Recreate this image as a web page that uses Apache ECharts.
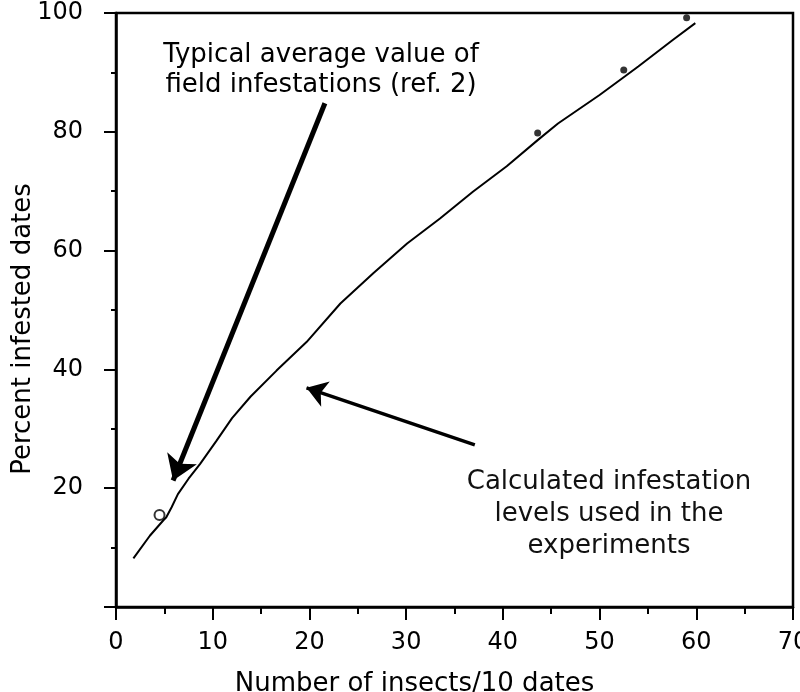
<!DOCTYPE html>
<html>
<head>
<meta charset="utf-8">
<script src="https://cdn.jsdelivr.net/npm/echarts@6/dist/echarts.min.js"></script>
<style>
  html, body { margin: 0; padding: 0; background: #fff; }
  #infoEchart { width: 800px; height: 692px; }
</style>
</head>
<body>
<div id="infoEchart"></div>
<script>
// curve: number of insects / 10 dates vs percent infested
var curveX = [1.8, 3.5, 4.9, 5.2, 5.75, 6.4, 7.5, 8.7, 10.4, 12.0, 13.9, 16.6, 19.7, 23.2, 26.6, 30.1, 33.5, 36.9, 40.4, 43.6, 45.7, 50.0, 52.6, 54.0, 57.6, 59.9];
var curveY = [8.2, 12.0, 14.6, 15.1, 16.8, 19.0, 21.6, 24.1, 28.0, 31.8, 35.4, 39.8, 44.6, 51.1, 56.2, 61.2, 65.4, 69.9, 74.2, 78.6, 81.4, 86.2, 89.3, 91.0, 95.5, 98.3];

// measured points
var openX = [4.5];
var openY = [15.5];
var dotX = [43.6, 52.5, 59.0];
var dotY = [79.8, 90.4, 99.2];

// annotation arrows (from, to) in data units
var arrowField = [[21.6, 84.8], [5.9, 21.3]];
var arrowCalc = [[37.1, 27.3], [19.7, 36.9]];

var xTicks = [0, 10, 20, 30, 40, 50, 60, 70];
var yTicks = [20, 40, 60, 80, 100];

var myChart;
var fontName = 'DejaVu Sans';

function zip(xs, ys) {
    var out = [];
    for (var i = 0; i < xs.length; i++) {
        out.push([xs[i], ys[i]]);
    }
    return out;
}

function buildChart() {
    myChart = echarts.init(document.getElementById('infoEchart'), null, {renderer: 'canvas'});
    var option = {
        animation: false,
        backgroundColor: '#fff',
        grid: {
            left: 116, right: 7, top: 13, bottom: 85,
            outerBoundsMode: 'none',
            containLabel: false,
            show: true, borderColor: '#000', borderWidth: 2.5
        },
        xAxis: {
            type: 'value',
            min: 0, max: 70, interval: 10,
            name: 'Number of insects/10 dates',
            nameLocation: 'middle',
            nameGap: 64,
            nameMoveOverlap: false,
            nameTextStyle: {fontFamily: fontName, fontSize: 26, color: '#000', padding: [0, 80, 0, 0]},
            axisLine: {lineStyle: {color: '#000', width: 2.5}},
            axisTick: {show: true, length: 13, lineStyle: {color: '#000', width: 2}},
            minorTick: {show: true, splitNumber: 2, length: 7, lineStyle: {color: '#000', width: 2}},
            splitLine: {show: false},
            axisLabel: {
                fontFamily: fontName, fontSize: 24, color: '#000', margin: 24,
                formatter: function (v) { return xTicks.indexOf(v) >= 0 ? String(v) : ''; }
            }
        },
        yAxis: {
            type: 'value',
            min: 0, max: 100, interval: 20,
            name: 'Percent infested dates',
            nameLocation: 'middle',
            nameGap: 80,
            nameRotate: 90,
            nameMoveOverlap: false,
            nameTextStyle: {fontFamily: fontName, fontSize: 26, color: '#000', padding: [0, 38, 0, 0]},
            axisLine: {lineStyle: {color: '#000', width: 2.5}},
            axisTick: {show: true, length: 12, lineStyle: {color: '#000', width: 2}},
            minorTick: {show: true, splitNumber: 2, length: 5, lineStyle: {color: '#000', width: 2}},
            splitLine: {show: false},
            axisLabel: {
                fontFamily: fontName, fontSize: 24, color: '#000', margin: 33,
                formatter: function (v) { return yTicks.indexOf(v) >= 0 ? String(v) : ''; }
            }
        },
        graphic: [
            {
                type: 'text', x: 321, y: 40, z: 100,
                style: {
                    text: 'Typical average value of\nfield infestations (ref. 2)',
                    font: '26px "DejaVu Sans"', fill: '#000',
                    textAlign: 'center', textVerticalAlign: 'top', lineHeight: 30
                }
            },
            {
                type: 'text', x: 609, y: 466, z: 100,
                style: {
                    text: 'Calculated infestation\nlevels used in the\nexperiments',
                    font: '26px "DejaVu Sans"', fill: '#111',
                    textAlign: 'center', textVerticalAlign: 'top', lineHeight: 32
                }
            }
        ],
        series: [
            {
                name: 'curve',
                type: 'line',
                data: zip(curveX, curveY),
                showSymbol: false,
                smooth: false,
                lineStyle: {color: '#000', width: 2}
            },
            {
                name: 'open',
                type: 'scatter',
                data: zip(openX, openY),
                symbol: 'circle',
                symbolSize: 10,
                z: 5,
                itemStyle: {color: '#fff', borderColor: '#000', borderWidth: 2}
            },
            {
                name: 'dots',
                type: 'scatter',
                data: zip(dotX, dotY),
                symbol: 'circle',
                symbolSize: 7,
                itemStyle: {color: '#000'}
            },
            {
                name: 'arrows',
                type: 'lines',
                coordinateSystem: 'cartesian2d',
                symbol: ['none', 'arrow'],
                data: [
                    {coords: arrowField, lineStyle: {width: 5}, symbolSize: 24},
                    {coords: arrowCalc, lineStyle: {width: 3.5}, symbolSize: 20}
                ],
                symbolSize: 20,
                lineStyle: {color: '#000', width: 3, opacity: 1, curveness: 0}
            }
        ]
    };
    myChart.setOption(option);
}

buildChart();
</script>
</body>
</html>
